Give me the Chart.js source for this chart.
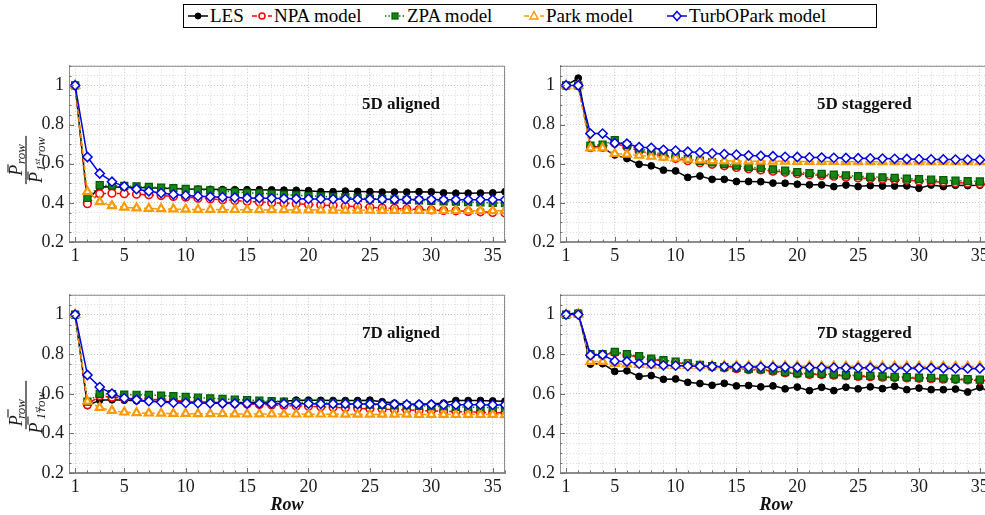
<!DOCTYPE html>
<html>
<head>
<meta charset="utf-8">
<script src="https://cdn.jsdelivr.net/npm/chart.js@4.4.1/dist/chart.umd.min.js"></script>
<style>
  html, body { margin: 0; padding: 0; background: #fff; width: 985px; height: 515px; overflow: hidden; position: relative; }
  canvas.panel { position: absolute; }
  #legend {
    position: absolute; left: 183px; top: 4px; width: 692px; height: 22px;
    border: 1px solid #000; background: #fff;
    font-family: "Liberation Serif", serif; font-size: 19px; color: #000;
  }
  #legend .item { position: absolute; top: 0; height: 22px; display: flex; align-items: center; white-space: nowrap; }
  #legend svg { margin-right: 1px; }
</style>
</head>
<body>
<div id="legend"></div>
<canvas id="c5a" class="panel"></canvas>
<canvas id="c5s" class="panel"></canvas>
<canvas id="c7a" class="panel"></canvas>
<canvas id="c7s" class="panel"></canvas>
<script>
// ---- data -------------------------------------------------------------
const rows = [1, 2, 3, 4, 5, 6, 7, 8, 9, 10, 11, 12, 13, 14, 15, 16, 17, 18,
              19, 20, 21, 22, 23, 24, 25, 26, 27, 28, 29, 30, 31, 32, 33, 34, 35, 36];
const rowTickLabels = [1, 5, 10, 15, 20, 25, 30, 35];
const valueTickLabels = [0.2, 0.4, 0.6, 0.8, 1];
const seriesNames = ['LES', 'NPA model', 'ZPA model', 'Park model', 'TurbOPark model'];

// 5D aligned
const les5a   = [1.000, 0.412, 0.482, 0.481, 0.480, 0.479, 0.477, 0.475, 0.473, 0.471, 0.470, 0.469, 0.468, 0.467, 0.467, 0.467, 0.466, 0.465, 0.464, 0.462, 0.457, 0.457, 0.460, 0.458, 0.457, 0.455, 0.455, 0.455, 0.457, 0.456, 0.451, 0.449, 0.449, 0.450, 0.451, 0.457];
const npa5a   = [1.000, 0.396, 0.447, 0.449, 0.447, 0.444, 0.441, 0.437, 0.433, 0.429, 0.424, 0.420, 0.416, 0.412, 0.408, 0.404, 0.401, 0.398, 0.395, 0.392, 0.389, 0.386, 0.383, 0.380, 0.377, 0.374, 0.372, 0.369, 0.366, 0.364, 0.361, 0.359, 0.356, 0.354, 0.351, 0.348];
const zpa5a   = [1.000, 0.425, 0.490, 0.488, 0.486, 0.484, 0.481, 0.478, 0.475, 0.471, 0.467, 0.464, 0.460, 0.456, 0.452, 0.449, 0.446, 0.442, 0.439, 0.436, 0.433, 0.430, 0.428, 0.425, 0.422, 0.420, 0.417, 0.415, 0.413, 0.410, 0.408, 0.406, 0.404, 0.402, 0.400, 0.398];
const park5a  = [1.000, 0.457, 0.405, 0.385, 0.377, 0.373, 0.371, 0.369, 0.368, 0.367, 0.366, 0.366, 0.365, 0.365, 0.365, 0.364, 0.364, 0.364, 0.363, 0.363, 0.363, 0.362, 0.362, 0.362, 0.362, 0.361, 0.361, 0.361, 0.361, 0.360, 0.360, 0.360, 0.360, 0.360, 0.359, 0.359];
const turbo5a = [1.000, 0.634, 0.550, 0.508, 0.484, 0.470, 0.459, 0.450, 0.443, 0.438, 0.434, 0.431, 0.429, 0.427, 0.425, 0.424, 0.423, 0.422, 0.421, 0.420, 0.420, 0.419, 0.419, 0.418, 0.418, 0.418, 0.417, 0.417, 0.417, 0.417, 0.416, 0.416, 0.416, 0.416, 0.416, 0.416];

// 5D staggered
const les5s   = [1.000, 1.037, 0.692, 0.680, 0.645, 0.626, 0.597, 0.589, 0.567, 0.563, 0.530, 0.537, 0.520, 0.520, 0.509, 0.509, 0.508, 0.501, 0.500, 0.495, 0.492, 0.492, 0.483, 0.491, 0.483, 0.488, 0.486, 0.486, 0.487, 0.475, 0.491, 0.483, 0.490, 0.488, 0.490, 0.497];
const npa5s   = [1.000, 1.000, 0.682, 0.686, 0.705, 0.685, 0.665, 0.652, 0.638, 0.627, 0.615, 0.605, 0.597, 0.589, 0.581, 0.574, 0.568, 0.562, 0.556, 0.549, 0.544, 0.540, 0.536, 0.531, 0.527, 0.524, 0.521, 0.518, 0.515, 0.512, 0.509, 0.506, 0.503, 0.500, 0.497, 0.494];
const zpa5s   = [1.000, 1.000, 0.692, 0.697, 0.720, 0.695, 0.675, 0.665, 0.645, 0.635, 0.625, 0.615, 0.607, 0.598, 0.590, 0.583, 0.577, 0.571, 0.565, 0.557, 0.552, 0.548, 0.544, 0.540, 0.536, 0.533, 0.530, 0.527, 0.524, 0.521, 0.518, 0.516, 0.513, 0.511, 0.509, 0.507];
const park5s  = [1.000, 1.000, 0.680, 0.680, 0.651, 0.648, 0.642, 0.637, 0.633, 0.628, 0.622, 0.618, 0.615, 0.614, 0.613, 0.613, 0.612, 0.612, 0.612, 0.611, 0.611, 0.611, 0.611, 0.610, 0.610, 0.610, 0.610, 0.610, 0.610, 0.609, 0.609, 0.609, 0.609, 0.609, 0.609, 0.609];
const turbo5s = [1.000, 1.000, 0.754, 0.754, 0.705, 0.702, 0.684, 0.681, 0.671, 0.667, 0.661, 0.657, 0.653, 0.649, 0.646, 0.642, 0.640, 0.638, 0.635, 0.634, 0.632, 0.631, 0.630, 0.629, 0.628, 0.627, 0.626, 0.625, 0.624, 0.623, 0.622, 0.622, 0.621, 0.621, 0.620, 0.620];

// 7D aligned
const les7a   = [1.000, 0.540, 0.568, 0.570, 0.568, 0.565, 0.563, 0.561, 0.560, 0.558, 0.557, 0.556, 0.556, 0.556, 0.556, 0.557, 0.558, 0.562, 0.568, 0.568, 0.567, 0.566, 0.566, 0.566, 0.568, 0.560, 0.553, 0.547, 0.549, 0.549, 0.553, 0.566, 0.566, 0.566, 0.564, 0.563];
const npa7a   = [1.000, 0.545, 0.590, 0.582, 0.578, 0.575, 0.572, 0.569, 0.566, 0.563, 0.560, 0.557, 0.554, 0.551, 0.549, 0.546, 0.544, 0.541, 0.539, 0.537, 0.535, 0.532, 0.529, 0.527, 0.524, 0.522, 0.520, 0.518, 0.516, 0.514, 0.512, 0.510, 0.509, 0.507, 0.505, 0.504];
const zpa7a   = [1.000, 0.560, 0.600, 0.598, 0.596, 0.595, 0.594, 0.591, 0.588, 0.584, 0.580, 0.577, 0.574, 0.571, 0.568, 0.566, 0.563, 0.561, 0.558, 0.556, 0.554, 0.552, 0.550, 0.548, 0.546, 0.544, 0.542, 0.541, 0.539, 0.537, 0.536, 0.534, 0.533, 0.531, 0.530, 0.528];
const park7a  = [1.000, 0.562, 0.530, 0.515, 0.507, 0.504, 0.502, 0.501, 0.500, 0.500, 0.499, 0.499, 0.499, 0.498, 0.498, 0.498, 0.498, 0.497, 0.497, 0.497, 0.497, 0.497, 0.496, 0.496, 0.496, 0.496, 0.496, 0.496, 0.495, 0.495, 0.495, 0.495, 0.495, 0.495, 0.495, 0.494];
const turbo7a = [1.000, 0.695, 0.634, 0.601, 0.578, 0.570, 0.563, 0.558, 0.555, 0.554, 0.553, 0.552, 0.552, 0.551, 0.551, 0.551, 0.550, 0.550, 0.550, 0.550, 0.549, 0.549, 0.549, 0.548, 0.548, 0.547, 0.547, 0.546, 0.546, 0.546, 0.545, 0.545, 0.545, 0.545, 0.544, 0.544];

// 7D staggered
const les7s   = [1.000, 1.010, 0.750, 0.752, 0.713, 0.716, 0.688, 0.692, 0.673, 0.675, 0.658, 0.652, 0.643, 0.653, 0.640, 0.642, 0.635, 0.640, 0.625, 0.634, 0.616, 0.633, 0.616, 0.633, 0.625, 0.635, 0.626, 0.638, 0.621, 0.629, 0.621, 0.621, 0.624, 0.609, 0.633, 0.605];
const npa7s   = [1.000, 1.003, 0.797, 0.797, 0.808, 0.796, 0.786, 0.774, 0.766, 0.758, 0.750, 0.742, 0.736, 0.731, 0.727, 0.722, 0.721, 0.714, 0.706, 0.701, 0.698, 0.697, 0.694, 0.691, 0.688, 0.686, 0.684, 0.682, 0.680, 0.678, 0.676, 0.674, 0.672, 0.670, 0.668, 0.665];
const zpa7s   = [1.000, 1.005, 0.800, 0.800, 0.812, 0.800, 0.790, 0.778, 0.770, 0.762, 0.754, 0.746, 0.740, 0.735, 0.731, 0.726, 0.725, 0.718, 0.710, 0.705, 0.702, 0.701, 0.698, 0.695, 0.692, 0.690, 0.688, 0.686, 0.684, 0.682, 0.680, 0.678, 0.676, 0.674, 0.672, 0.669];
const park7s  = [1.000, 1.003, 0.763, 0.763, 0.752, 0.750, 0.747, 0.745, 0.744, 0.743, 0.742, 0.742, 0.741, 0.741, 0.741, 0.740, 0.740, 0.740, 0.740, 0.740, 0.740, 0.739, 0.739, 0.739, 0.739, 0.739, 0.739, 0.739, 0.739, 0.738, 0.738, 0.738, 0.738, 0.738, 0.738, 0.738];
const turbo7s = [1.000, 1.000, 0.795, 0.797, 0.765, 0.763, 0.752, 0.751, 0.744, 0.742, 0.740, 0.739, 0.738, 0.737, 0.736, 0.735, 0.735, 0.734, 0.734, 0.733, 0.733, 0.732, 0.732, 0.731, 0.731, 0.731, 0.730, 0.730, 0.730, 0.729, 0.729, 0.729, 0.728, 0.728, 0.728, 0.727];

// ---- styles -----------------------------------------------------------
const SERIF = '"Liberation Serif", "Times New Roman", serif';
const styles = [
  { color: '#000000', dash: [],       marker: 'circle',   fill: '#000000', edge: '#000000', r: 3.4, pw: 1 },
  { color: '#ff0000', dash: [5, 3],   marker: 'circle',   fill: '#ffffff', edge: '#ff0000', r: 3.8, pw: 1.6 },
  { color: '#008000', dash: [1.5, 2], marker: 'rect',     fill: '#168516', edge: '#005a00', r: 5,   pw: 1.2 },
  { color: '#ff9900', dash: [5, 3],   marker: 'triangle', fill: '#ffffff', edge: '#ff9900', r: 4.6, pw: 2.2 },
  { color: '#0000e6', dash: [],       marker: 'rectRot',  fill: '#ffffff', edge: '#0000e6', r: 4.6, pw: 1.5 }
];
const legendLeft = [3, 67, 200, 339, 482];
const gridMajor = '#c9c9c9';
const gridMinor = '#dedede';
const axisGray = '#8c8c8c';

function makeDatasets(lists) {
  return lists.map((vals, k) => {
    const s = styles[k];
    return {
      label: seriesNames[k],
      data: rows.map((r, i) => ({ x: r, y: vals[i] })),
      borderColor: s.color,
      borderWidth: 1.5,
      borderDash: s.dash,
      pointStyle: s.marker,
      pointRadius: s.r,
      pointBorderWidth: s.pw,
      pointBackgroundColor: s.fill,
      pointBorderColor: s.edge,
      tension: 0,
      fill: false,
      order: 5 - k
    };
  });
}

const isRowLabel = v => rowTickLabels.includes(v);
const valueLabelOf = v => valueTickLabels.find(t => Math.abs(t - v) < 1e-6);
const valueTicks = [];
for (let k = 4; k <= 22; k++) valueTicks.push(Math.round(k * 5) / 100);

function scales(yWidth, xHeight) {
  return {
    x: {
      type: 'linear', min: 0.5, max: 36,
      afterBuildTicks: ax => { ax.ticks = rows.map(v => ({ value: v })); },
      afterFit: ax => { ax.height = xHeight; },
      ticks: {
        autoSkip: false, maxRotation: 0, minRotation: 0, padding: 3,
        color: '#1a1a1a', font: { family: SERIF, size: 18 },
        callback: v => isRowLabel(v) ? String(v) : ''
      },
      grid: {
        drawTicks: false, lineWidth: 1,
        color: c => (c.tick && isRowLabel(c.tick.value)) ? gridMajor : gridMinor
      },
      border: { display: true, color: axisGray, width: 1, dash: [1, 2] }
    },
    y: {
      type: 'linear', min: 0.2, max: 1.1,
      afterBuildTicks: ax => { ax.ticks = valueTicks.map(v => ({ value: v })); },
      afterFit: ax => { ax.width = yWidth; },
      ticks: {
        autoSkip: false, padding: 5,
        color: '#1a1a1a', font: { family: SERIF, size: 18 },
        callback: v => {
          const t = valueLabelOf(v);
          if (t === undefined) return '';
          return t === 1 ? '1' : t.toFixed(1);
        }
      },
      grid: {
        drawTicks: false, lineWidth: 1,
        color: c => (c.tick && valueLabelOf(c.tick.value) !== undefined) ? gridMajor : gridMinor
      },
      border: { display: true, color: axisGray, width: 1, dash: [1, 2] }
    }
  };
}

// fraction  P̄_row / P̄_{1st row}, written sideways
function drawRatioTitle(ctx, cx, cy) {
  ctx.save();
  ctx.translate(cx, cy);
  ctx.rotate(-Math.PI / 2);
  ctx.fillStyle = '#1a1a1a';
  ctx.strokeStyle = '#1a1a1a';
  ctx.textBaseline = 'alphabetic';
  const big = 'italic 18px ' + SERIF;
  const sub = 'italic 13px ' + SERIF;
  const tiny = 'italic 9px ' + SERIF;
  ctx.font = big;  const pW = ctx.measureText('P').width;
  ctx.font = sub;  const rowW = ctx.measureText('row').width;
  const oneW = ctx.measureText('1').width;
  ctx.font = tiny; const stW = ctx.measureText('st').width;

  const numW = pW + 1 + rowW;
  const denW = pW + 1 + oneW + stW + 2 + rowW;
  const lineW = denW + 2;
  ctx.fillRect(-lineW / 2, -0.6, lineW, 1.2);

  const drawP = (x, base) => {
    ctx.font = big;
    ctx.fillText('P', x, base);
    ctx.lineWidth = 1.1;
    ctx.beginPath();
    ctx.moveTo(x + pW * 0.3, base - 13.5);
    ctx.lineTo(x + pW * 1.05, base - 13.5);
    ctx.stroke();
  };
  // numerator
  let x = -numW / 2;
  drawP(x, -4.5);
  ctx.font = sub; ctx.fillText('row', x + pW + 1, -1.5);
  // denominator
  x = -denW / 2;
  drawP(x, 15.5);
  ctx.font = sub; ctx.fillText('1', x + pW + 1, 18.5);
  ctx.font = tiny; ctx.fillText('st', x + pW + 1 + oneW, 13.5);
  ctx.font = sub; ctx.fillText('row', x + pW + 1 + oneW + stW + 2, 18.5);
  ctx.restore();
}

const panelDecor = {
  id: 'panelDecor',
  afterDraw(chart, args, o) {
    const { ctx, chartArea: a } = chart;
    const xs = chart.scales.x, ys = chart.scales.y;
    ctx.save();
    // box
    ctx.strokeStyle = axisGray;
    ctx.lineWidth = 1;
    ctx.strokeRect(a.left + 0.5, a.top + 0.5, a.right - a.left - 1, a.bottom - a.top - 1);
    // inward tick marks
    ctx.strokeStyle = '#6e6e6e';
    ctx.beginPath();
    rows.forEach(v => {
      const px = Math.round(xs.getPixelForValue(v)) + 0.5;
      const len = isRowLabel(v) ? 5 : 2.5;
      ctx.moveTo(px, a.bottom); ctx.lineTo(px, a.bottom - len);
    });
    valueTicks.forEach(v => {
      const py = Math.round(ys.getPixelForValue(v)) + 0.5;
      const len = valueLabelOf(v) !== undefined ? 5 : 2.5;
      ctx.moveTo(a.left, py); ctx.lineTo(a.left + len, py);
    });
    ctx.stroke();
    // panel label
    ctx.fillStyle = '#111';
    ctx.font = 'bold 17px ' + SERIF;
    ctx.textAlign = 'left';
    ctx.textBaseline = 'middle';
    ctx.fillText(o.title, a.left + o.titleDx, a.top + 39);
    // axis titles
    if (o.rowTitle) {
      ctx.font = 'italic bold 18px ' + SERIF;
      ctx.textAlign = 'center';
      ctx.fillText('Row', (a.left + a.right) / 2, a.bottom + 32);
    }
    if (o.ratioTitle) drawRatioTitle(ctx, 26, o.ratioY);
    ctx.restore();
  }
};

function makePanel(id, left, top, yWidth, areaWidth, xHeight, height, lists, decor) {
  const cv = document.getElementById(id);
  const width = yWidth + areaWidth + 10;
  cv.width = width; cv.height = height;
  cv.style.left = left + 'px'; cv.style.top = top + 'px';
  cv.style.width = width + 'px'; cv.style.height = height + 'px';
  return new Chart(cv, {
    type: 'line',
    data: { datasets: makeDatasets(lists) },
    options: {
      responsive: false, animation: false, events: [],
      layout: { padding: { top: 13, right: 10, left: 0, bottom: 0 } },
      scales: scales(yWidth, xHeight),
      plugins: { legend: { display: false }, tooltip: { enabled: false }, panelDecor: decor }
    },
    plugins: [panelDecor]
  });
}

makePanel('c5a', 0, 50, 69, 436, 30, 222, [les5a, npa5a, zpa5a, park5a, turbo5a],
          { title: '5D aligned', titleDx: 293, ratioTitle: true, ratioY: 110 });
makePanel('c5s', 515, 50, 45, 432, 30, 222, [les5s, npa5s, zpa5s, park5s, turbo5s],
          { title: '5D staggered', titleDx: 257 });
makePanel('c7a', 0, 279, 69, 436, 42, 236, [les7a, npa7a, zpa7a, park7a, turbo7a],
          { title: '7D aligned', titleDx: 293, ratioTitle: true, ratioY: 126, rowTitle: true });
makePanel('c7s', 515, 279, 45, 432, 42, 236, [les7s, npa7s, zpa7s, park7s, turbo7s],
          { title: '7D staggered', titleDx: 257, rowTitle: true });

// ---- legend -----------------------------------------------------------
function markerSvg(s) {
  const st = `fill="${s.fill}" stroke="${s.edge}" stroke-width="${Math.min(s.pw, 1.5)}"`;
  let m = '';
  if (s.marker === 'circle') m = `<circle cx="11" cy="8" r="3" ${st}/>`;
  else if (s.marker === 'rect') m = `<rect x="8" y="5" width="6" height="6" ${st}/>`;
  else if (s.marker === 'triangle') m = `<polygon points="11,3.5 15,11 7,11" ${st}/>`;
  else m = `<polygon points="11,3.5 15,8 11,12.5 7,8" ${st}/>`;
  const dash = s.dash.length ? `stroke-dasharray="${s.dash.join(',')}"` : '';
  return `<svg width="22" height="16" viewBox="0 0 22 16">` +
         `<line x1="1" y1="8" x2="21" y2="8" stroke="${s.color}" stroke-width="1.5" ${dash}/>` + m + `</svg>`;
}
document.getElementById('legend').innerHTML = seriesNames.map((n, k) =>
  `<span class="item" style="left:${legendLeft[k]}px">${markerSvg(styles[k])}<span>${n}</span></span>`).join('');
</script>
</body>
</html>
